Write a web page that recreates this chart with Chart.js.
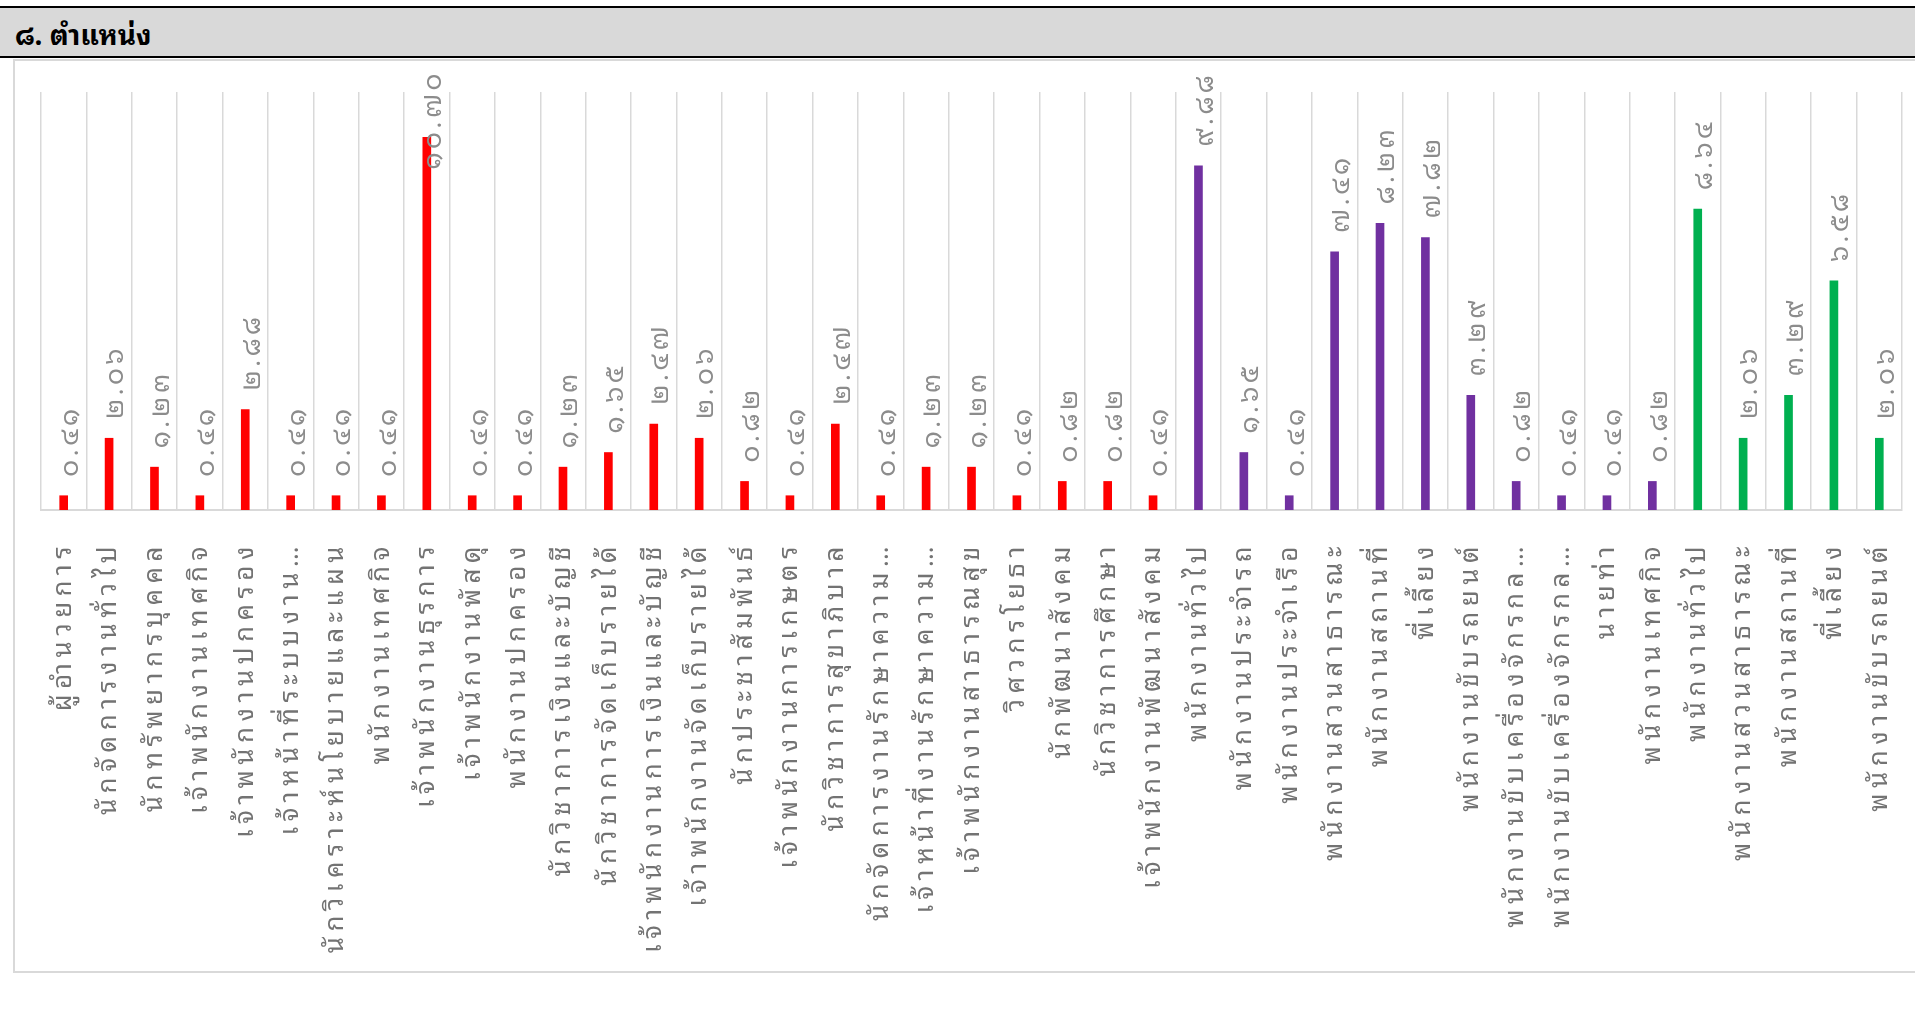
<!DOCTYPE html>
<html lang="th">
<head>
<meta charset="utf-8">
<title>ตำแหน่ง</title>
<script src="https://cdn.jsdelivr.net/npm/chart.js@4.4.1/dist/chart.umd.min.js"></script>
<style>
  html, body { margin: 0; padding: 0; background: #fff; overflow: hidden; }
  body { width: 1915px; height: 1033px; position: relative; font-family: "Noto Sans Thai Looped", "Noto Sans Thai", "Noto Sans", sans-serif; }
  .head {
    position: absolute; left: 0; top: 6px; width: 1915px; height: 48px;
    background: #d9d9d9; border-top: 2px solid #000; border-bottom: 2px solid #000;
  }
  .head h1 { margin: 0; position: absolute; left: 15px; top: 7px; font-size: 28px; line-height: 36px; font-weight: bold; color: #000; }
  .box {
    position: absolute; left: 13px; top: 59px; width: 1920px; height: 910px;
    border: 2px solid #d9d9d9;
  }
  .plot { position: absolute; left: 0; top: 0; width: 1900px; height: 910px; }
</style>
</head>
<body>
<div class="head"><h1>๘. ตำแหน่ง</h1></div>
<div class="box"><div class="plot"><canvas id="posChart"></canvas></div></div>
<script>
// red group
const officerLabels = [
  "ผู้อำนวยการ", "นักจัดการงานทั่วไป", "นักทรัพยากรบุคคล", "เจ้าพนักงานเทศกิจ",
  "เจ้าพนักงานปกครอง", "เจ้าหน้าที่ระบบงาน…", "นักวิเคราะห์นโยบายและแผน", "พนักงานเทศกิจ",
  "เจ้าพนักงานธุรการ", "เจ้าพนักงานพัสดุ", "พนักงานปกครอง", "นักวิชาการเงินและบัญชี",
  "นักวิชาการจัดเก็บรายได้", "เจ้าพนักงานการเงินและบัญชี", "เจ้าพนักงานจัดเก็บรายได้",
  "นักประชาสัมพันธ์", "เจ้าพนักงานการเกษตร", "นักวิชาการสุขาภิบาล", "นักจัดการงานรักษาความ…",
  "เจ้าหน้าที่งานรักษาความ…", "เจ้าพนักงานสาธารณสุข", "วิศวกรโยธา", "นักพัฒนาสังคม",
  "นักวิชาการศึกษา", "เจ้าพนักงานพัฒนาสังคม"
];
const officerValues = [
  0.41, 2.06, 1.23, 0.41, 2.88, 0.41, 0.41, 0.41, 10.70, 0.41, 0.41, 1.23, 1.65,
  2.47, 2.06, 0.82, 0.41, 2.47, 0.41, 1.23, 1.23, 0.41, 0.82, 0.82, 0.41
];

// purple group
const staffLabels = [
  "พนักงานทั่วไป", "พนักงานประจำรถ", "พนักงานประจำเรือ", "พนักงานสวนสาธารณะ",
  "พนักงานสถานที่", "พี่เลี้ยง", "พนักงานขับรถยนต์", "พนักงานขับเครื่องจักรกล…",
  "พนักงานขับเครื่องจักรกล…", "นายท่า", "พนักงานเทศกิจ"
];
const staffValues = [9.88, 1.65, 0.41, 7.41, 8.23, 7.82, 3.29, 0.82, 0.41, 0.41, 0.82];

// green group
const contractLabels = [
  "พนักงานทั่วไป", "พนักงานสวนสาธารณะ", "พนักงานสถานที่", "พี่เลี้ยง", "พนักงานขับรถยนต์"
];
const contractValues = [8.64, 2.06, 3.29, 6.58, 2.06];

const yMax = 12;

const labels = officerLabels.concat(staffLabels, contractLabels);
const values = officerValues.concat(staffValues, contractValues);
const colors = officerValues.map(() => "#ff0000")
  .concat(staffValues.map(() => "#7030a0"), contractValues.map(() => "#00b050"));

const thaiDigits = "๐๑๒๓๔๕๖๗๘๙";
function toThai(str) {
  return str.replace(/[0-9]/g, d => thaiDigits[d]);
}

const FONT = '"Noto Sans Thai Looped", "Noto Sans Thai", "Noto Sans", sans-serif';

// the source font is wide and airy, so spread the letters a bit
const spacing = {
  id: "spacing",
  beforeDraw(chart) { chart.ctx.letterSpacing = "5.5px"; },
  afterDraw(chart) { chart.ctx.letterSpacing = "0px"; }
};

const valueLabels = {
  id: "valueLabels",
  afterDatasetsDraw(chart) {
    const ctx = chart.ctx;
    const area = chart.chartArea;
    const meta = chart.getDatasetMeta(0);
    ctx.save();
    ctx.letterSpacing = "3.5px";
    ctx.font = "26px " + FONT;
    ctx.fillStyle = "#8c8c8c";
    ctx.textAlign = "left";
    ctx.textBaseline = "middle";
    meta.data.forEach((bar, i) => {
      const text = toThai(values[i].toFixed(2));
      const w = ctx.measureText(text).width;
      let y = bar.y - 19;
      const minTop = area.top - 22;
      if (y - w < minTop) y = minTop + w;
      ctx.save();
      ctx.translate(bar.x + 7, y);
      ctx.rotate(-Math.PI / 2);
      ctx.fillText(text, 0, 0);
      ctx.restore();
    });
    ctx.restore();
  }
};

new Chart(document.getElementById("posChart"), {
  type: "bar",
  data: {
    labels: labels,
    datasets: [{
      data: values,
      backgroundColor: colors,
      barThickness: 8
    }]
  },
  options: {
    responsive: true,
    maintainAspectRatio: false,
    animation: false,
    layout: { padding: { left: 26, right: 13, top: 31, bottom: 0 } },
    plugins: {
      legend: { display: false },
      tooltip: { enabled: false }
    },
    scales: {
      x: {
        grid: { color: "#d9d9d9", lineWidth: 1.5, drawTicks: false, offset: true },
        border: { color: "#d9d9d9", width: 2 },
        ticks: {
          autoSkip: false,
          maxRotation: 90,
          minRotation: 90,
          padding: 31,
          color: "#737373",
          font: { family: FONT, size: 26 }
        },
        afterFit(scale) {
          scale.height = 461;
          scale.paddingLeft = 0;
          scale.paddingRight = 0;
        }
      },
      y: {
        display: false,
        min: 0,
        max: yMax
      }
    }
  },
  plugins: [spacing, valueLabels]
});
</script>
</body>
</html>
